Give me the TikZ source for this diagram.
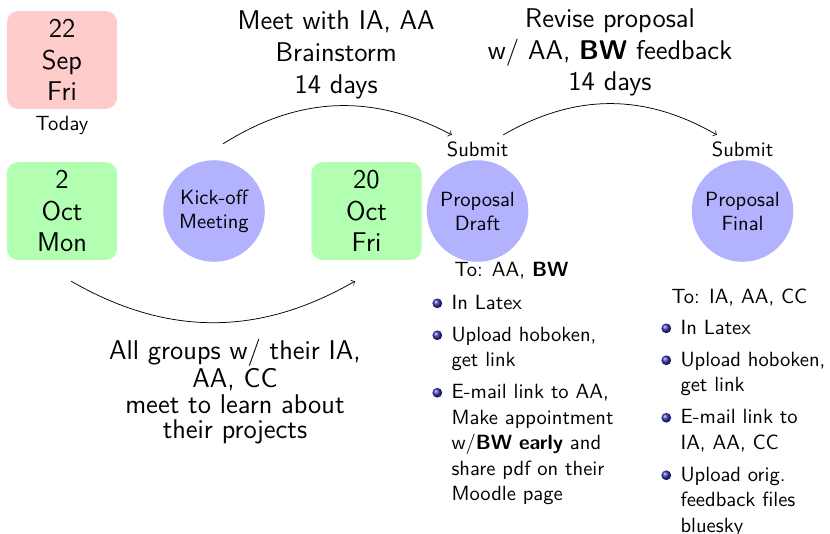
\documentclass[11pt,tikz,border=0pt]{standalone}
\usepackage{fontspec}
\renewcommand{\familydefault}{\sfdefault}
\usepackage{enumitem}
\definecolor{ballblue}{rgb}{0.2,0.2,0.7}
% shaded bullet for the to-do lists
\newcommand{\itemball}{\tikz[baseline={(0,-3.2pt)}]\shade[ball color=ballblue] (0,0) circle (2.6pt);}
\newcommand{\bigtext}{\fontsize{14.4}{16.8}\selectfont}
\setlist[itemize]{label=\itemball, leftmargin=10.2pt, labelwidth=5.2pt, labelsep=5pt, topsep=0pt, partopsep=0pt, parsep=0pt, itemsep=3.4pt}
\tikzset{
  datebox/.style={rounded corners=6pt, minimum width=2.06cm, minimum height=1.83cm, align=center, font=\bigtext},
  pastday/.style={datebox, fill=red!20},
  meetday/.style={datebox, fill=green!30},
  milestone/.style={circle, fill=blue!30, minimum size=1.9cm, inner sep=1pt, align=center, font={\fontsize{10.95}{12.8}\selectfont}},
  todo/.style={anchor=north west, inner sep=0pt, text width=3.8cm, align=left},
  phase/.style={midway, above, align=center, font=\bigtext}
}

\begin{document}
\begin{tikzpicture}
\def\rowy {-3.947}  % y-position of the timeline row
\def\subx {0.48}    % offset of the arrow ends from the Submit labels
\useasboundingbox (0,0) rectangle (15.525,-9.988);
% dates and milestones:
 \node[pastday, label=below:Today] (sep22) at (1.16,-1.122) {22\\Sep\\Fri};
 \node[meetday] (oct2) at (1.16,\rowy) {2\\Oct\\Mon};
 \node[milestone] (kick) at (4.003,\rowy) {Kick-off\\Meeting};
 \node[meetday] (oct20) at (6.855,\rowy) {20\\Oct\\Fri};
 \node[milestone, label={[name=subDraft, label distance=-2.5pt]above:Submit}] (draft) at (8.932,\rowy) {Proposal\\Draft};
 \node[milestone, label={[name=subFinal, label distance=-2.5pt]above:Submit}] (final) at (13.889,\rowy) {Proposal\\Final};
% to-do lists:
 \node[anchor=base] (toDraft) at (9.568,-5.181) {To: AA, \textbf{BW}};
 \node[todo] (listDraft) at (8.081,-5.301) {\begin{itemize}
   \item In Latex
   \item Upload hoboken,\\ get link
   \item E-mail link to AA,\\ Make appointment\\ w/\textbf{BW early} and\\ share pdf on their\\ Moodle page
 \end{itemize}};
 \node[anchor=base] (toFinal) at (13.832,-5.668) {To: IA, AA, CC};
 \node[todo] (listFinal) at (12.364,-5.769) {\begin{itemize}
   \item In Latex
   \item Upload hoboken,\\ get link
   \item E-mail link to\\ IA, AA, CC
   \item Upload orig.\\ feedback files\\ bluesky
 \end{itemize}};
% phases:
 \draw[->] ([shift={(0.17,0.30)}]kick.north) to[bend left] node[phase] {Meet with IA, AA\\Brainstorm\\14 days} ([xshift=-\subx cm]subDraft.north);
 \draw[->] ([xshift=\subx cm]subDraft.north) to[bend left] node[phase] {Revise proposal\\w/ AA, \textbf{BW} feedback\\14 days} ([xshift=-\subx cm]subFinal.north);
 \draw[->] ([shift={(0.17,-0.39)}]oct2.south) to[bend right] node[midway, below=0.18cm, xshift=0.41cm, align=center, font={\fontsize{14.4}{13.6}\selectfont}] {All groups w/ their IA,\\AA, CC\\meet to learn about\\their projects} ([shift={(-0.215,-0.39)}]oct20.south);
\end{tikzpicture}
\end{document}
